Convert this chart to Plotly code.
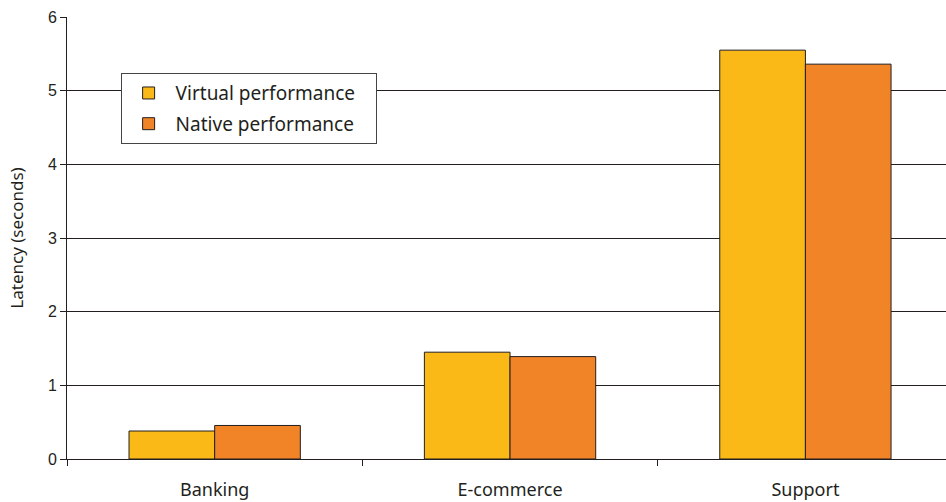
import plotly.graph_objects as go

categories = ["Banking", "E-commerce", "Support"]
virtual_perf = [0.38, 1.45, 5.55]
native_perf = [0.455, 1.39, 5.36]
y_ticks = [0, 1, 2, 3, 4, 5, 6]

fig = go.Figure()
fig.add_trace(go.Bar(
    x=categories, y=virtual_perf, name="Virtual performance\u00a0\u00a0\u00a0",
    marker=dict(color="#FBB917", line=dict(color="#231F20", width=1)),
    legendgroup="a",
))
fig.add_trace(go.Bar(
    x=categories, y=native_perf, name="Native performance",
    marker=dict(color="#F28428", line=dict(color="#231F20", width=1)),
    legendgroup="b",
))

fig.update_layout(
    width=946, height=502,
    margin=dict(l=67, r=0, t=17, b=43),
    paper_bgcolor="white", plot_bgcolor="white",
    barmode="group", bargap=0.42, bargroupgap=0,
    showlegend=True,
    legend=dict(
        x=0.061, y=0.873, xanchor="left", yanchor="top",
        bgcolor="white", bordercolor="#444444", borderwidth=1,
        font=dict(family="Noto Sans", size=19, color="#231F20"),
        traceorder="grouped", tracegroupgap=3,
        itemwidth=44,
    ),
    xaxis=dict(
        type="category", range=[-0.5, 2.476],
        showline=True, linecolor="#231F20", linewidth=1,
        ticks="outside", tickson="boundaries", ticklen=6, tickcolor="#231F20",
        ticklabelstandoff=14,
        tickfont=dict(family="Noto Sans", size=18, color="#231F20"),
        showgrid=False,
    ),
    yaxis=dict(
        range=[0, 6], tickvals=y_ticks,
        showline=True, linecolor="#231F20", linewidth=1,
        ticks="outside", ticklen=6, tickcolor="#231F20",
        tickfont=dict(family="Liberation Sans", size=16, color="#231F20"),
        showgrid=True, gridcolor="#231F20", gridwidth=1,
        zeroline=True, zerolinecolor="#231F20", zerolinewidth=1,
        title=dict(text="Latency (seconds)", standoff=19,
                   font=dict(family="Noto Sans", size=17, color="#231F20")),
    ),
)

fig.write_html("out.html")
